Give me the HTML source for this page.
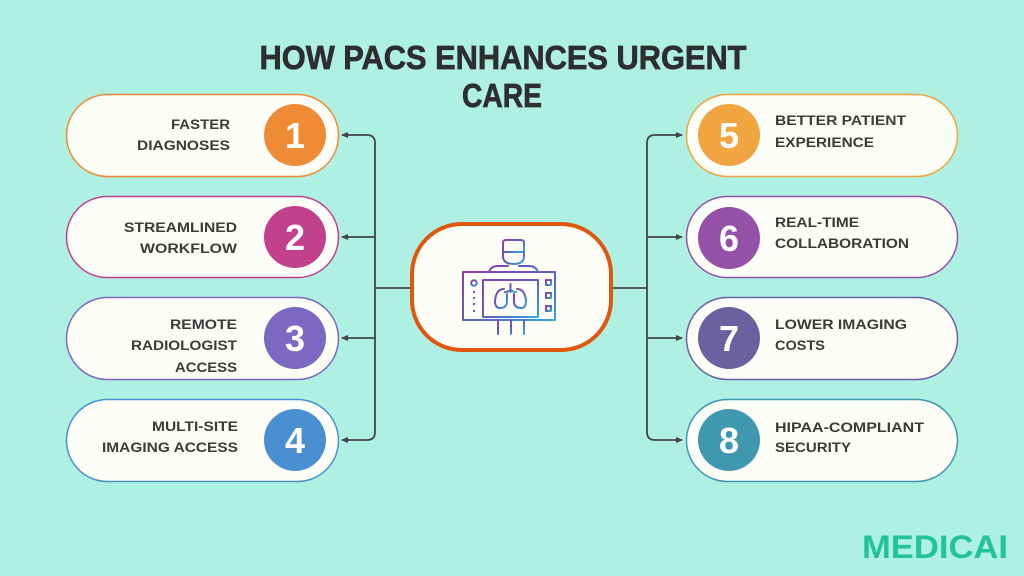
<!DOCTYPE html>
<html>
<head>
<meta charset="utf-8">
<style>
html,body{margin:0;padding:0;background:#aef0e2;}
svg{display:block;}
.lbl{font-family:"Liberation Sans",sans-serif;font-weight:bold;font-size:13.5px;fill:#3b3b3b;}
.num{font-family:"Liberation Sans",sans-serif;font-weight:bold;font-size:36px;fill:#fff;}
</style>
</head>
<body>
<svg width="1024" height="576" viewBox="0 0 1024 576" xmlns="http://www.w3.org/2000/svg">
<defs>
<linearGradient id="g" x1="0" y1="0" x2="1" y2="1">
<stop offset="0" stop-color="#8e3db0"/>
<stop offset="0.55" stop-color="#5a63c0"/>
<stop offset="1" stop-color="#33a8dc"/>
</linearGradient>
<marker id="ah" markerWidth="8" markerHeight="8" refX="6" refY="4" orient="auto" markerUnits="userSpaceOnUse">
<path d="M0,1 L7,4 L0,7 Z" fill="#444"/>
</marker>
</defs>
<rect width="1024" height="576" fill="#aef0e2"/>

<!-- Title -->
<text x="503" y="69" text-anchor="middle" font-family="Liberation Sans, sans-serif" font-weight="bold" font-size="33" fill="#2e2e2e" stroke="#2e2e2e" stroke-width="0.7" textLength="487" lengthAdjust="spacingAndGlyphs">HOW PACS ENHANCES URGENT</text>
<text x="502" y="107" text-anchor="middle" font-family="Liberation Sans, sans-serif" font-weight="bold" font-size="33" fill="#2e2e2e" stroke="#2e2e2e" stroke-width="0.7" textLength="80" lengthAdjust="spacingAndGlyphs">CARE</text>

<!-- Connectors left -->
<g fill="none" stroke="#444" stroke-width="1.8">
<path d="M375,288 L375,143 Q375,135 367,135 L342,135" marker-end="url(#ah)"/>
<path d="M375,288 L375,432 Q375,440 367,440 L342,440" marker-end="url(#ah)"/>
<path d="M375,237 L342,237" marker-end="url(#ah)"/>
<path d="M375,338 L342,338" marker-end="url(#ah)"/>
<path d="M375,288 L410,288"/>
<!-- right -->
<path d="M647,288 L647,143 Q647,135 655,135 L682,135" marker-end="url(#ah)"/>
<path d="M647,288 L647,432 Q647,440 655,440 L682,440" marker-end="url(#ah)"/>
<path d="M647,237 L682,237" marker-end="url(#ah)"/>
<path d="M647,338 L682,338" marker-end="url(#ah)"/>
<path d="M613,288 L647,288"/>
</g>

<!-- Left pills -->
<rect x="66.5" y="94.5" width="272" height="82" rx="41" fill="#fdfdf8" stroke="#ef8a35" stroke-width="1.5"/>
<circle cx="295" cy="135" r="31" fill="#ef8a35"/>
<text class="num" x="295" y="148" text-anchor="middle">1</text>
<text class="lbl" x="230" y="129" text-anchor="end" textLength="59" lengthAdjust="spacingAndGlyphs">FASTER</text>
<text class="lbl" x="230" y="150" text-anchor="end" textLength="93" lengthAdjust="spacingAndGlyphs">DIAGNOSES</text>

<rect x="66.5" y="196.5" width="272" height="81" rx="40.5" fill="#fdfdf8" stroke="#c3408f" stroke-width="1.5"/>
<circle cx="295" cy="237" r="31" fill="#c3408f"/>
<text class="num" x="295" y="250" text-anchor="middle">2</text>
<text class="lbl" x="237" y="232" text-anchor="end" textLength="113" lengthAdjust="spacingAndGlyphs">STREAMLINED</text>
<text class="lbl" x="237" y="253" text-anchor="end" textLength="97" lengthAdjust="spacingAndGlyphs">WORKFLOW</text>

<rect x="66.5" y="297.5" width="272" height="82" rx="41" fill="#fdfdf8" stroke="#7b68c0" stroke-width="1.5"/>
<circle cx="295" cy="338" r="31" fill="#7b68c0"/>
<text class="num" x="295" y="351" text-anchor="middle">3</text>
<text class="lbl" x="237" y="329" text-anchor="end" textLength="67" lengthAdjust="spacingAndGlyphs">REMOTE</text>
<text class="lbl" x="237" y="350" text-anchor="end" textLength="106" lengthAdjust="spacingAndGlyphs">RADIOLOGIST</text>
<text class="lbl" x="237" y="372" text-anchor="end" textLength="62" lengthAdjust="spacingAndGlyphs">ACCESS</text>

<rect x="66.5" y="399.5" width="272" height="82" rx="41" fill="#fdfdf8" stroke="#4a8fd0" stroke-width="1.5"/>
<circle cx="295" cy="440" r="31" fill="#4a8fd0"/>
<text class="num" x="295" y="453" text-anchor="middle">4</text>
<text class="lbl" x="238" y="431" text-anchor="end" textLength="86" lengthAdjust="spacingAndGlyphs">MULTI-SITE</text>
<text class="lbl" x="238" y="452" text-anchor="end" textLength="136" lengthAdjust="spacingAndGlyphs">IMAGING ACCESS</text>

<!-- Right pills -->
<rect x="686.5" y="94.5" width="271" height="82" rx="41" fill="#fdfdf8" stroke="#f0a540" stroke-width="1.5"/>
<circle cx="729" cy="135" r="31" fill="#f0a540"/>
<text class="num" x="729" y="148" text-anchor="middle">5</text>
<text class="lbl" x="775" y="125" textLength="131" lengthAdjust="spacingAndGlyphs">BETTER PATIENT</text>
<text class="lbl" x="775" y="147" textLength="99" lengthAdjust="spacingAndGlyphs">EXPERIENCE</text>

<rect x="686.5" y="196.5" width="271" height="81" rx="40.5" fill="#fdfdf8" stroke="#9550a8" stroke-width="1.5"/>
<circle cx="729" cy="238" r="31" fill="#9550a8"/>
<text class="num" x="729" y="251" text-anchor="middle">6</text>
<text class="lbl" x="775" y="227" textLength="84" lengthAdjust="spacingAndGlyphs">REAL-TIME</text>
<text class="lbl" x="775" y="248" textLength="134" lengthAdjust="spacingAndGlyphs">COLLABORATION</text>

<rect x="686.5" y="297.5" width="271" height="82" rx="41" fill="#fdfdf8" stroke="#6b60a0" stroke-width="1.5"/>
<circle cx="729" cy="338" r="31" fill="#6b60a0"/>
<text class="num" x="729" y="351" text-anchor="middle">7</text>
<text class="lbl" x="775" y="329" textLength="132" lengthAdjust="spacingAndGlyphs">LOWER IMAGING</text>
<text class="lbl" x="775" y="350" textLength="50" lengthAdjust="spacingAndGlyphs">COSTS</text>

<rect x="686.5" y="399.5" width="271" height="82" rx="41" fill="#fdfdf8" stroke="#3f97b0" stroke-width="1.5"/>
<circle cx="729" cy="440" r="31" fill="#3f97b0"/>
<text class="num" x="729" y="453" text-anchor="middle">8</text>
<text class="lbl" x="775" y="432" textLength="149" lengthAdjust="spacingAndGlyphs">HIPAA-COMPLIANT</text>
<text class="lbl" x="775" y="452" textLength="76" lengthAdjust="spacingAndGlyphs">SECURITY</text>

<!-- Center pill -->
<rect x="412" y="224" width="199" height="126" rx="50" fill="#fdfdf8" stroke="#e0560f" stroke-width="4"/>

<!-- Icon -->
<g fill="none" stroke="url(#g)" stroke-width="2" stroke-linejoin="round" stroke-linecap="round">
<path d="M503,252 L503,243 Q503,240 506,240 L521,240 Q524,240 524,243 L524,252 Z"/>
<path d="M503,252 L503,256 Q503,264 513.5,264 Q524,264 524,256 L524,252"/>
<path d="M489,272 Q491,266 498,266 L508,266 M519,266 L529,266 Q536,266 538,272"/>
<rect x="463" y="272" width="92" height="48"/>
<rect x="483" y="280" width="55" height="37"/>
<circle cx="474" cy="283" r="2.8"/>
<rect x="546" y="280" width="5" height="5"/>
<rect x="546" y="293" width="5" height="5"/>
<rect x="546" y="306" width="5" height="5"/>
<path d="M498,320 L498,334 M511,320 L511,334 M524,320 L524,334"/>
<path d="M510.5,284 L510.5,292 M510.5,290 Q508,292 505,292 M510.5,290 Q513,292 516,292"/>
<path d="M504,289 Q496,289 495,301 Q495,308 500,308 Q507,308 507,301 L507,294"/>
<path d="M517,289 Q525,289 526,301 Q526,308 521,308 Q514,308 514,301 L514,294"/>
</g>
<g fill="url(#g)">
<circle cx="474" cy="292" r="1.2"/>
<circle cx="474" cy="298" r="1.2"/>
<circle cx="474" cy="304" r="1.2"/>
<circle cx="474" cy="311" r="1.2"/>
</g>

<!-- Logo -->
<text x="862" y="558" font-family="Liberation Sans, sans-serif" font-weight="bold" font-size="32" fill="#22c39b" textLength="146" lengthAdjust="spacingAndGlyphs">MEDICAI</text>
</svg>
</body>
</html>
